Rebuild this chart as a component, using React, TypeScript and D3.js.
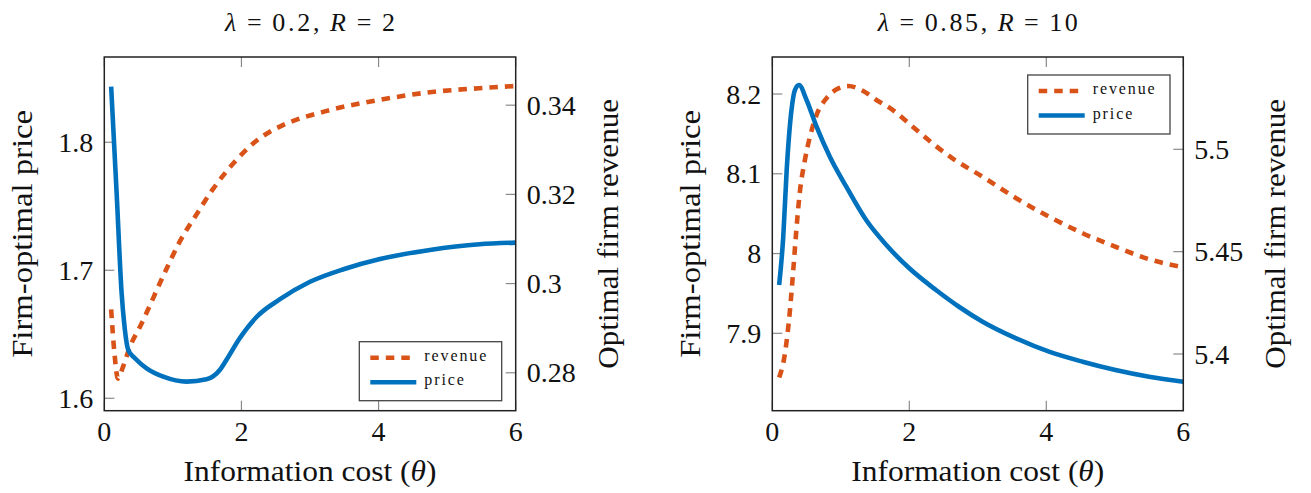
import React from 'react';
import * as d3 from 'd3';

// ---------- data ----------
const xTickValues = [0, 2, 4, 6];

// Panel A: lambda = 0.2, R = 2
const aPriceTheta = [0.1, 0.18, 0.253, 0.29, 0.35, 0.447, 0.617, 0.86, 1.2, 1.49, 1.684, 1.78, 1.975, 2.22, 2.557, 3.0, 3.5, 4.02, 4.75, 5.47, 6.0];
const aPrice = [1.8434, 1.7602, 1.682, 1.6586, 1.6377, 1.6313, 1.6234, 1.6169, 1.613, 1.6148, 1.6221, 1.6299, 1.6469, 1.6635, 1.6772, 1.691, 1.701, 1.7088, 1.7159, 1.7203, 1.7216];
const aRevTheta = [0.1, 0.15, 0.2, 0.27, 0.37, 0.52, 0.91, 1.1, 1.34, 1.59, 1.88, 2.17, 2.41, 2.56, 3.29, 4.02, 4.75, 5.47, 6.0];
const aRev = [0.2942, 0.284, 0.2787, 0.2812, 0.2857, 0.2903, 0.3034, 0.3094, 0.3154, 0.3213, 0.3269, 0.3314, 0.334, 0.3352, 0.3389, 0.3412, 0.3429, 0.3438, 0.3443];
const aLeftTicks = [1.6, 1.7, 1.8];
const aLeftTickLabels = ['1.6', '1.7', '1.8'];
const aRightTicks = [0.28, 0.3, 0.32, 0.34];
const aRightTickLabels = ['0.28', '0.3', '0.32', '0.34'];

// Panel B: lambda = 0.85, R = 10
const bPriceTheta = [0.1, 0.16, 0.21, 0.28, 0.33, 0.39, 0.5, 0.646, 0.84, 1.08, 1.37, 1.665, 2.0, 2.39, 2.73, 3.07, 3.56, 4.04, 4.53, 5.01, 5.5, 6.0];
const bPrice = [7.9606, 8.0211, 8.1047, 8.18, 8.205, 8.2113, 8.1925, 8.159, 8.1214, 8.0838, 8.042, 8.0107, 7.9815, 7.9543, 7.933, 7.9146, 7.8937, 7.877, 7.8644, 7.854, 7.8456, 7.8393];
const bRevTheta = [0.1, 0.185, 0.258, 0.306, 0.355, 0.4, 0.476, 0.55, 0.646, 0.79, 0.94, 1.11, 1.32, 1.52, 1.76, 2.05, 2.34, 2.63, 3.07, 3.56, 4.04, 4.53, 5.01, 5.5, 6.0];
const bRev = [5.3885, 5.4003, 5.4215, 5.441, 5.4622, 5.4785, 5.4948, 5.5062, 5.5168, 5.5249, 5.5293, 5.5309, 5.5286, 5.5241, 5.5192, 5.511, 5.5029, 5.4956, 5.4866, 5.4761, 5.4671, 5.459, 5.4524, 5.4463, 5.4424];
const bLeftTicks = [7.9, 8.0, 8.1, 8.2];
const bLeftTickLabels = ['7.9', '8', '8.1', '8.2'];
const bRightTicks = [5.4, 5.45, 5.5];
const bRightTickLabels = ['5.4', '5.45', '5.5'];

const legendLabels = ['revenue', 'price'];

// ---------- style ----------
const ORANGE = '#D95319';
const BLUE = '#0072BD';
const TOP = 57;
const BOTTOM = 410.7;
const TICK = 10;
const CSS = `svg text, svg tspan { font-family: "Liberation Serif", "Times New Roman", Tinos, serif !important; }`;

type PanelProps = {
  x0: number; x1: number;
  leftDomain: [number, number]; rightDomain: [number, number];
  leftTicks: number[]; leftTickLabels: string[];
  rightTicks: number[]; rightTickLabels: string[];
  priceTheta: number[]; price: number[];
  revTheta: number[]; rev: number[];
  titleNums: [string, string]; titleLen: number;
  legend: { x: number; y: number; w: number; h: number };
};

function Panel(p: PanelProps) {
  const x = d3.scaleLinear().domain([0, 6]).range([p.x0, p.x1]);
  const yL = d3.scaleLinear().domain(p.leftDomain).range([BOTTOM, TOP]);
  const yR = d3.scaleLinear().domain(p.rightDomain).range([BOTTOM, TOP]);
  const priceLine = d3.line<number>().x((_, i) => x(p.priceTheta[i])).y((d) => yL(d)).curve(d3.curveMonotoneX);
  const revLine = d3.line<number>().x((_, i) => x(p.revTheta[i])).y((d) => yR(d)).curve(d3.curveMonotoneX);
  const cx = (p.x0 + p.x1) / 2;
  const cy = (TOP + BOTTOM) / 2;
  const lg = p.legend;
  const clipId = `clip${Math.round(p.x0)}`;
  return (
    <g>
      <defs>
        <clipPath id={clipId}>
          <rect x={p.x0} y={TOP} width={p.x1 - p.x0} height={BOTTOM - TOP} />
        </clipPath>
      </defs>
      {xTickValues.map((t) => (
        <g key={'xt' + t}>
          <line x1={x(t)} x2={x(t)} y1={BOTTOM} y2={BOTTOM - TICK} stroke="#8a8a8a" strokeWidth={1.2} />
          <line x1={x(t)} x2={x(t)} y1={TOP} y2={TOP + TICK} stroke="#8a8a8a" strokeWidth={1.2} />
          <text x={x(t)} y={441} textAnchor="middle" fontSize={28} fontFamily="Liberation Serif" fill="#111">{String(t)}</text>
        </g>
      ))}
      {p.leftTicks.map((t, i) => (
        <g key={'yl' + t}>
          <line x1={p.x0} x2={p.x0 + TICK} y1={yL(t)} y2={yL(t)} stroke="#8a8a8a" strokeWidth={1.2} />
          <text x={p.x0 - 11} y={yL(t) + 9.5} textAnchor="end" fontSize={28} fontFamily="Liberation Serif" fill="#111">{p.leftTickLabels[i]}</text>
        </g>
      ))}
      {p.rightTicks.map((t, i) => (
        <g key={'yr' + t}>
          <line x1={p.x1} x2={p.x1 - TICK} y1={yR(t)} y2={yR(t)} stroke="#8a8a8a" strokeWidth={1.2} />
          <text x={p.x1 + 11} y={yR(t) + 9.5} textAnchor="start" fontSize={28} fontFamily="Liberation Serif" fill="#111">{p.rightTickLabels[i]}</text>
        </g>
      ))}
      <g clipPath={`url(#${clipId})`}>
        <path d={revLine(p.rev) || ''} fill="none" stroke={ORANGE} strokeWidth={4.6} strokeDasharray="8.5,7" />
        <path d={priceLine(p.price) || ''} fill="none" stroke={BLUE} strokeWidth={4.6} strokeLinejoin="round" />
      </g>
      <rect x={p.x0} y={TOP} width={p.x1 - p.x0} height={BOTTOM - TOP} fill="none" stroke="#222" strokeWidth={1.5} />
      <rect x={lg.x} y={lg.y} width={lg.w} height={lg.h} fill="white" stroke="#444" strokeWidth={1.3} />
      <line x1={lg.x + 11} x2={lg.x + 51} y1={lg.y + 16} y2={lg.y + 16} stroke={ORANGE} strokeWidth={4.6} strokeDasharray="8.5,7" />
      <line x1={lg.x + 11} x2={lg.x + 57} y1={lg.y + 40.5} y2={lg.y + 40.5} stroke={BLUE} strokeWidth={4.6} />
      <text x={lg.x + 65} y={lg.y + 19} fontSize={16} letterSpacing={1.9} fontFamily="Liberation Serif" fill="#111">{legendLabels[0]}</text>
      <text x={lg.x + 65} y={lg.y + 43.5} fontSize={16} letterSpacing={1.9} fontFamily="Liberation Serif" fill="#111">{legendLabels[1]}</text>
      <text x={cx} y={30.5} textAnchor="middle" fontSize={26} fontFamily="Liberation Serif" fill="#111" textLength={p.titleLen} lengthAdjust="spacing">
        <tspan fontStyle="italic">λ</tspan>{'\u2009=\u2009' + p.titleNums[0] + ',\u2009'}<tspan fontStyle="italic">R</tspan>{'\u2009=\u2009' + p.titleNums[1]}
      </text>
      <text x={cx} y={481} textAnchor="middle" fontSize={30} fontFamily="Liberation Serif" fill="#111" textLength={253} lengthAdjust="spacingAndGlyphs">
        Information cost (<tspan fontStyle="italic">θ</tspan>)
      </text>
      <text transform={`translate(${p.x0 - 72},${cy}) rotate(-90)`} textAnchor="middle" fontSize={30} fontFamily="Liberation Serif" fill="#111" textLength={248} lengthAdjust="spacingAndGlyphs">
        Firm-optimal price
      </text>
      <text transform={`translate(${p.x1 + 102},${cy}) rotate(-90)`} textAnchor="middle" fontSize={30} fontFamily="Liberation Serif" fill="#111" textLength={270} lengthAdjust="spacingAndGlyphs">
        Optimal firm revenue
      </text>
    </g>
  );
}

export default function App() {
  return (
    <svg width={1311} height={493} style={{ display: 'block', overflow: 'visible' }}>
      <style>{CSS}</style>
      <g transform="translate(-8,-8)">
        <rect x={0} y={0} width={1311} height={493} fill="white" />
        <Panel
          x0={104.3} x1={515.7}
          leftDomain={[1.5903, 1.8666]} rightDomain={[0.2715, 0.3508]}
          leftTicks={aLeftTicks} leftTickLabels={aLeftTickLabels}
          rightTicks={aRightTicks} rightTickLabels={aRightTickLabels}
          priceTheta={aPriceTheta} price={aPrice}
          revTheta={aRevTheta} rev={aRev}
          titleNums={['0.2', '2']} titleLen={170}
          legend={{ x: 359.3, y: 341.7, w: 142.4, h: 59 }}
        />
        <Panel
          x0={772.3} x1={1183.3}
          leftDomain={[7.803, 8.2464]} rightDomain={[5.3723, 5.5451]}
          leftTicks={bLeftTicks} leftTickLabels={bLeftTickLabels}
          rightTicks={bRightTicks} rightTickLabels={bRightTickLabels}
          priceTheta={bPriceTheta} price={bPrice}
          revTheta={bRevTheta} rev={bRev}
          titleNums={['0.85', '10']} titleLen={200}
          legend={{ x: 1027.7, y: 75, w: 142.3, h: 59 }}
        />
      </g>
    </svg>
  );
}
